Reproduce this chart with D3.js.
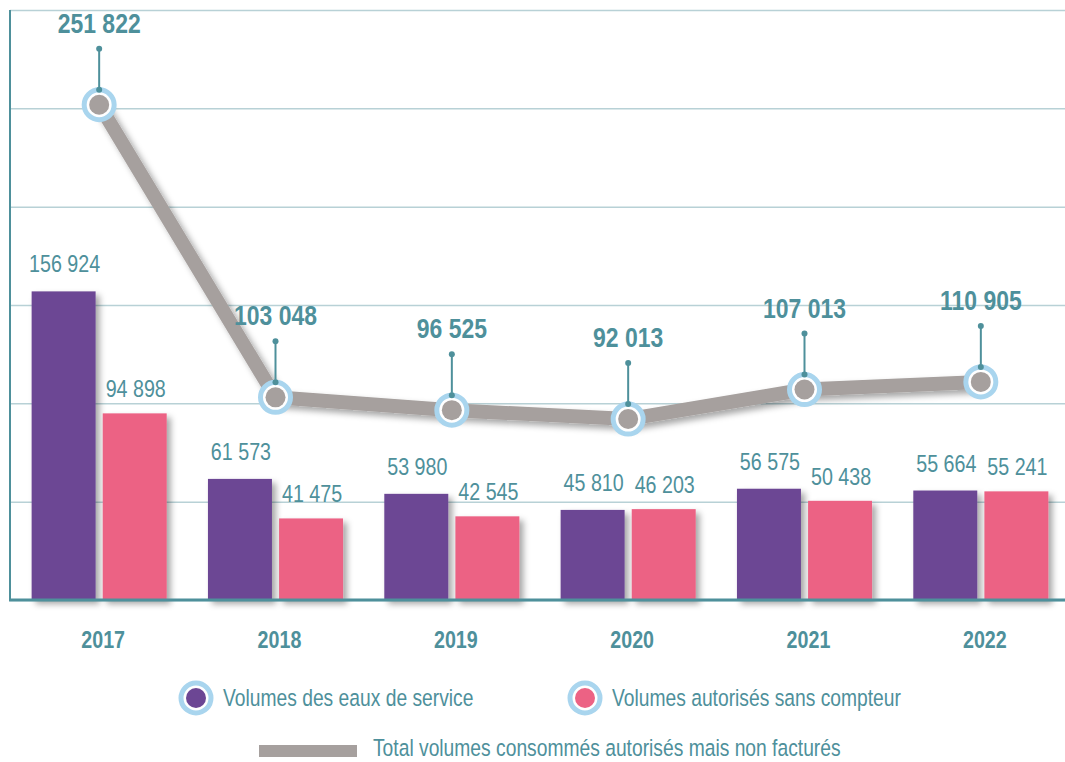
<!DOCTYPE html>
<html>
<head>
<meta charset="utf-8">
<script src="https://cdn.jsdelivr.net/npm/d3@7"></script>
<style>
  body { margin: 0; background: #fff; }
  svg { display: block; font-family: "Liberation Sans", Arial, sans-serif; }
</style>
</head>
<body>
<div id="chart"></div>
<script>
// données
const years = ["2017", "2018", "2019", "2020", "2021", "2022"];
const eauxService = [156924, 61573, 53980, 45810, 56575, 55664];
const sansCompteur = [94898, 41475, 42545, 46203, 50438, 55241];
const totalNonFactures = [251822, 103048, 96525, 92013, 107013, 110905];
const seriesNames = ["Volumes des eaux de service", "Volumes autorisés sans compteur"];
const lineName = "Total volumes consommés autorisés mais non facturés";
const yTicks = [0, 50000, 100000, 150000, 200000, 250000, 300000];

const W = 1065, H = 762;
const teal = "#4e909b";
const grid = "#b8d1d6";
const purple = "#6c4694";
const pink = "#ec6284";
const grey = "#a6a09e";
const ring = "#a9d5ee";
const narrow = 0.82; // police condensée : on compresse Liberation Sans

// format "156 924"
const fmt = v => d3.format(",")(v).replace(/,/g, " ");
const place = (x, y) => `translate(${x},${y}) scale(${narrow},1)`;

const svg = d3.select("#chart").append("svg")
    .attr("width", W)
    .attr("height", H);

const defs = svg.append("defs");
defs.append("filter")
    .attr("id", "shadow")
    .attr("x", "-20%").attr("y", "-20%")
    .attr("width", "150%").attr("height", "150%")
    .append("feDropShadow")
    .attr("dx", 4).attr("dy", 4)
    .attr("stdDeviation", 3)
    .attr("flood-color", "#000")
    .attr("flood-opacity", 0.35);

const x0 = d3.scaleBand()
    .domain(years)
    .range([11, 1069])
    .paddingInner(0.234)
    .paddingOuter(0.117);

const x1 = d3.scaleBand()
    .domain([0, 1])
    .range([0, x0.bandwidth()])
    .paddingInner(0.1);

const y = d3.scaleLinear()
    .domain([0, 300000])
    .range([600, 10]);

// grille horizontale
svg.append("g")
    .attr("transform", "translate(10,0)")
    .call(d3.axisLeft(y).tickValues(yTicks).tickSize(-(W - 10)).tickFormat(""))
    .call(g => g.select(".domain").remove())
    .call(g => g.selectAll(".tick line").attr("stroke", grid).attr("stroke-width", 1.5));

// barres
const groups = svg.append("g")
    .selectAll("g")
    .data(years)
    .join("g")
    .attr("transform", d => `translate(${x0(d)},0)`);

const barData = (yr, i) => [
    { s: 0, v: eauxService[i], c: purple },
    { s: 1, v: sansCompteur[i], c: pink }
];

groups.selectAll("rect")
    .data((d, i) => barData(d, i))
    .join("rect")
    .attr("x", d => x1(d.s))
    .attr("y", d => y(d.v))
    .attr("width", x1.bandwidth())
    .attr("height", d => y(0) - y(d.v))
    .attr("fill", d => d.c)
    .attr("filter", "url(#shadow)");

groups.selectAll("text")
    .data((d, i) => barData(d, i))
    .join("text")
    .attr("transform", d => place(x1(d.s) + x1.bandwidth() / 2 + 1, y(d.v) - (d.s === 0 ? 19 : 16)))
    .attr("text-anchor", "middle")
    .attr("fill", teal)
    .attr("font-size", 24)
    .text(d => fmt(d.v));

// axes
svg.append("line")
    .attr("x1", 10).attr("x2", 10)
    .attr("y1", 10).attr("y2", 600)
    .attr("stroke", teal).attr("stroke-width", 2);

svg.append("line")
    .attr("x1", 9).attr("x2", W)
    .attr("y1", 600).attr("y2", 600)
    .attr("stroke", teal).attr("stroke-width", 3);

svg.append("g")
    .attr("transform", "translate(4,620)")
    .call(d3.axisBottom(x0).tickSize(0))
    .call(g => g.select(".domain").remove())
    .call(g => g.selectAll("text")
        .attr("fill", teal)
        .attr("font-size", 24)
        .attr("font-weight", "bold")
        .attr("font-family", "Liberation Sans, Arial, sans-serif")
        .attr("transform", `scale(${narrow},1)`)
        .attr("dy", 25));

// courbe
const cx = yr => x0(yr) + x0.bandwidth() / 2;
const lineGen = d3.line()
    .x((d, i) => cx(years[i]))
    .y(d => y(d));

svg.append("path")
    .datum(totalNonFactures)
    .attr("d", lineGen)
    .attr("fill", "none")
    .attr("stroke", grey)
    .attr("stroke-width", 14)
    .attr("filter", "url(#shadow)");

const pts = svg.append("g")
    .selectAll("g")
    .data(totalNonFactures)
    .join("g")
    .attr("transform", (d, i) => `translate(${cx(years[i])},${y(d)})`);

pts.append("line")
    .attr("x1", 0).attr("x2", 0)
    .attr("y1", -15).attr("y2", -56)
    .attr("stroke", teal).attr("stroke-width", 2);
pts.append("circle").attr("cy", -56).attr("r", 3).attr("fill", teal);

pts.append("circle")
    .attr("r", 15)
    .attr("fill", "#fff")
    .attr("stroke", ring)
    .attr("stroke-width", 5);
pts.append("circle")
    .attr("r", 10)
    .attr("fill", grey);
pts.append("circle").attr("cy", -15).attr("r", 3).attr("fill", teal);

pts.append("text")
    .attr("transform", place(0, -72))
    .attr("text-anchor", "middle")
    .attr("fill", teal)
    .attr("font-size", 28)
    .attr("font-weight", "bold")
    .text(d => fmt(d));

// légende
const leg = svg.append("g");
const legItems = [
    { x: 196, c: purple, t: seriesNames[0] },
    { x: 585, c: pink, t: seriesNames[1] }
];
legItems.forEach(it => {
    leg.append("circle")
        .attr("cx", it.x).attr("cy", 698)
        .attr("r", 15)
        .attr("fill", "#fff")
        .attr("stroke", ring)
        .attr("stroke-width", 5);
    leg.append("circle")
        .attr("cx", it.x).attr("cy", 698)
        .attr("r", 10)
        .attr("fill", it.c);
    leg.append("text")
        .attr("transform", place(it.x + 27, 706))
        .attr("fill", teal)
        .attr("font-size", 23.5)
        .text(it.t);
});

leg.append("rect")
    .attr("x", 259).attr("y", 745)
    .attr("width", 98).attr("height", 12)
    .attr("fill", grey);
leg.append("text")
    .attr("transform", place(373, 756))
    .attr("fill", teal)
    .attr("font-size", 23.5)
    .text(lineName);
</script>
</body>
</html>
